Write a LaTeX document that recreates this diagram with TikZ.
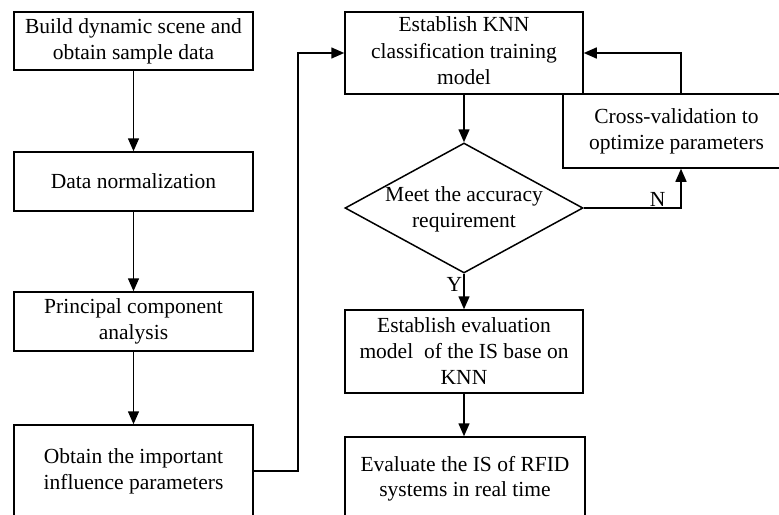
\documentclass[tikz,border=0pt]{standalone}
\usepackage{fontspec}
\setmainfont{Liberation Serif}
\usetikzlibrary{shapes.geometric,arrows.meta}
\begin{document}
\begin{tikzpicture}[x=1pt,y=-1pt,
  every node/.style={font=\fontsize{21.5}{26}\selectfont},
  stepbox/.style={draw,line width=1.5pt,minimum width=239pt,inner sep=0pt,align=center},
  decision/.style={draw,line width=1.5pt,shape=diamond,minimum width=238pt,minimum height=130pt,inner sep=0pt},
  flow/.style={line width=1.5pt,-{Triangle[length=13pt,width=11pt]}},
  tag/.style={inner sep=1pt}]
\useasboundingbox (0,0) rectangle (779,514);
\clip (0,0) rectangle (779,514);
\fill[white] (0,0) rectangle (779,514);

% left column
\node[stepbox,minimum height=58pt] (b1) at (133.5,41) {Build dynamic scene and\\obtain sample data};
\node[stepbox,minimum height=59pt] (b2) at (133.5,181.5) {Data normalization};
\node[stepbox,minimum height=59pt] (b3) at (133.5,321.5) {Principal component\\analysis};
\node[stepbox,minimum height=92pt] (b4) at (133.5,471) {Obtain the important\\influence parameters};

% right column
\node[stepbox,minimum width=238pt,minimum height=82pt] (knn) at (464,53) {\raisebox{1pt}{\begin{tabular}{@{}c@{}}Establish KNN\\[1pt]classification training\\model\end{tabular}}};
\node[stepbox,minimum width=227pt,minimum height=74pt] (cv) at (676.5,131) {Cross-validation to\\optimize parameters};
\node[decision] (dia) at (464,208) {};
\node[align=center] (diatext) at (464,209) {Meet the accuracy\\requirement};
\node[stepbox,minimum width=238pt,minimum height=83pt] (ev) at (464,351.5) {Establish evaluation\\model~ of the IS base on\\KNN};
\node[stepbox,minimum width=240pt,minimum height=83pt] (fin) at (465,478.5) {\raisebox{6pt}{\begin{tabular}{@{}c@{}}Evaluate the IS of RFID\\[-1pt]systems in real time\end{tabular}}};

% connectors
\draw[flow] (b1) -- (b2);
\draw[flow] (b2) -- (b3);
\draw[flow] (b3) -- (b4);
\draw[flow] (b4.east) -- ++(44,0) |- (knn.west);
\draw[flow] (knn) -- (dia.north);
\draw[flow] (dia.east) -| ([xshift=4.5pt]cv.south) node[tag,pos=0.38,anchor=south] (nlab) {N};
\draw[flow] ([xshift=4.5pt]cv.north) |- (knn.east);
\draw[flow] (dia.south) -- (ev.north) node[tag,pos=0.3,anchor=east] (ylab) {Y};
\draw[flow] (ev.south) -- (ev.south |- fin.north);
\end{tikzpicture}
\end{document}
